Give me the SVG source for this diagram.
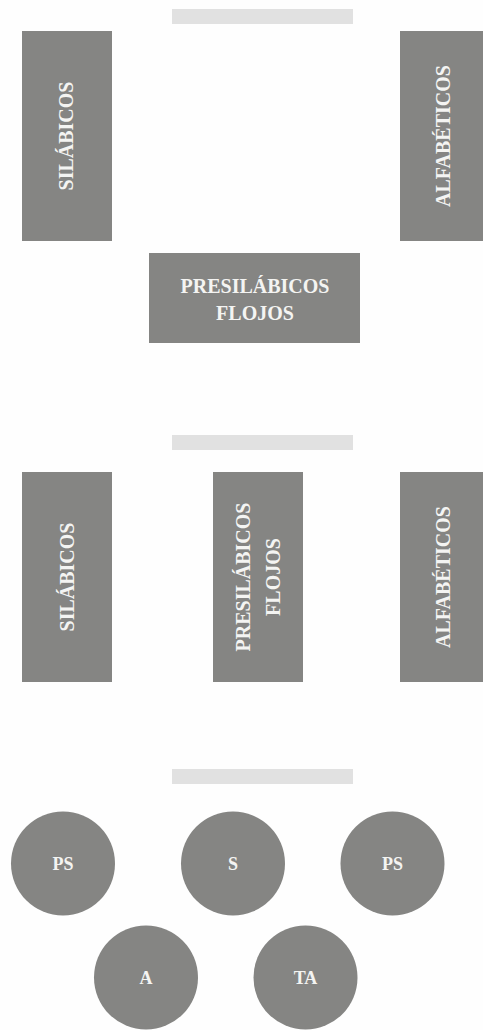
<svg xmlns="http://www.w3.org/2000/svg" width="483" height="1030" viewBox="0 0 483 1030">
<style>
.box{fill:#858583;}
.bar{fill:#e1e1e1;}
.t{font-family:"Liberation Serif","Times New Roman",serif;font-weight:bold;font-size:20px;fill:#f4f4f2;text-anchor:middle;}
.c{font-size:18px;}
</style>
<rect width="483" height="1030" fill="#fefefe"/>
<g id="bar1"><rect class="bar" x="172" y="9" width="181" height="15"/></g>
<g id="silabicos1"><rect class="box" x="22" y="31" width="90" height="210"/>
<text class="t" transform="translate(66,136) rotate(-90)" x="0" y="7">SILÁBICOS</text></g>
<g id="alfabeticos1"><rect class="box" x="400" y="31" width="90" height="210"/>
<text class="t" transform="translate(443,136) rotate(-90)" x="0" y="7">ALFABÉTICOS</text></g>
<g id="presilabicos1"><rect class="box" x="149" y="253" width="211" height="90"/>
<text class="t" x="255" y="293">PRESILÁBICOS</text>
<text class="t" x="255" y="320">FLOJOS</text></g>
<g id="bar2"><rect class="bar" x="172" y="435" width="181" height="15"/></g>
<g id="silabicos2"><rect class="box" x="22" y="472" width="90" height="210"/>
<text class="t" transform="translate(67,577) rotate(-90)" x="0" y="7">SILÁBICOS</text></g>
<g id="presilabicos2"><rect class="box" x="213" y="472" width="90" height="210"/>
<text class="t" transform="translate(243,577) rotate(-90)" x="0" y="7">PRESILÁBICOS</text>
<text class="t" transform="translate(273,577) rotate(-90)" x="0" y="7">FLOJOS</text></g>
<g id="alfabeticos2"><rect class="box" x="400" y="472" width="90" height="210"/>
<text class="t" transform="translate(443,577) rotate(-90)" x="0" y="7">ALFABÉTICOS</text></g>
<g id="bar3"><rect class="bar" x="172" y="769" width="181" height="15"/></g>
<g id="ps1"><circle class="box" cx="63" cy="863.5" r="52"/><text class="t c" x="63" y="870">PS</text></g>
<g id="s"><circle class="box" cx="233" cy="863.5" r="52"/><text class="t c" x="233" y="870">S</text></g>
<g id="ps2"><circle class="box" cx="392.5" cy="863.5" r="52"/><text class="t c" x="392.5" y="870">PS</text></g>
<g id="a"><circle class="box" cx="146" cy="977.5" r="52"/><text class="t c" x="146" y="984">A</text></g>
<g id="ta"><circle class="box" cx="305.5" cy="977.5" r="52"/><text class="t c" x="305.5" y="984">TA</text></g>
</svg>
